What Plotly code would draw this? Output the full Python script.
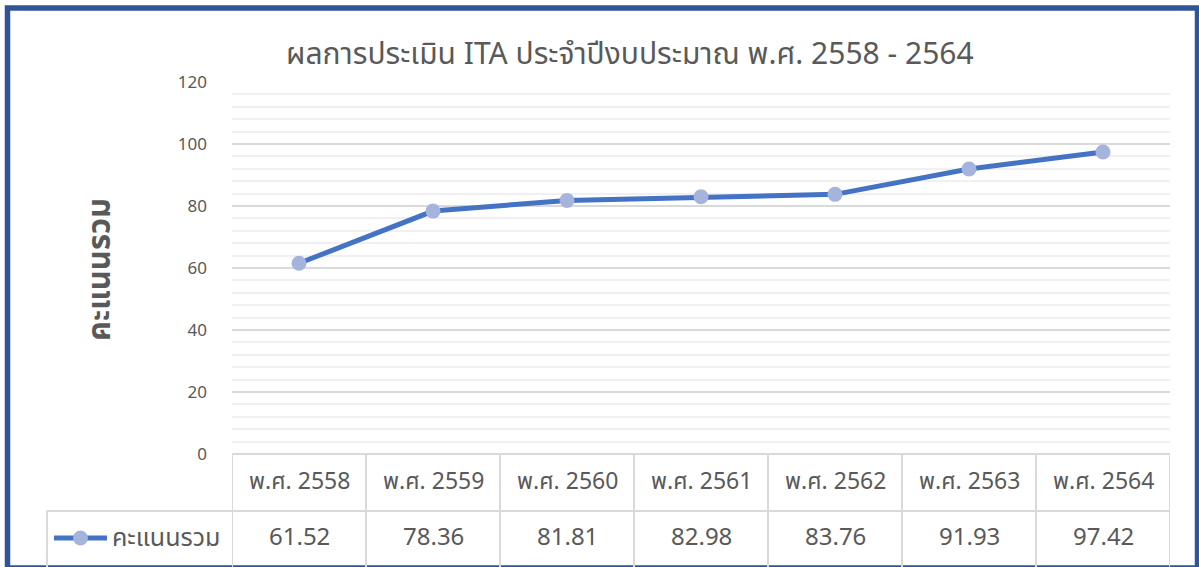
import plotly.graph_objects as go

categories = ["พ.ศ. 2558", "พ.ศ. 2559", "พ.ศ. 2560", "พ.ศ. 2561", "พ.ศ. 2562", "พ.ศ. 2563", "พ.ศ. 2564"]
scores = [61.52, 78.36, 81.81, 82.98, 83.76, 91.93, 97.42]
series_name = "คะแนนรวม"
title_text = "ผลการประเมิน ITA ประจำปีงบประมาณ พ.ศ. 2558 - 2564"
y_ticks = [0, 20, 40, 60, 80, 100, 120]

W, H = 1199, 567
L, R, T, B = 232, 1170, 82, 454  # plot area in pixels


def px_x(p):
    return (p - L) / (R - L)


def px_y(p):
    return (B - p) / (B - T)


FONT = "Leelawadee UI, Tahoma, Noto Sans Thai, Noto Sans, DejaVu Sans, sans-serif"
TXT = "#595959"
LINE = "#4472C4"
MARK = "#A5B4DC"
GRID = "#D9D9D9"
MINOR = "#F0F0F0"
BORDER = "#2F5597"

fig = go.Figure()
fig.add_trace(go.Scatter(
    x=categories, y=scores, name=series_name, mode="lines+markers",
    line=dict(color=LINE, width=5),
    marker=dict(color=MARK, size=15, line=dict(width=0)),
    showlegend=False, cliponaxis=False,
))

shapes = []
annotations = []

# outer border
shapes.append(dict(type="rect", xref="paper", yref="paper",
                   x0=px_x(7.5), x1=px_x(1197.5), y0=px_y(568), y1=px_y(8),
                   line=dict(color=BORDER, width=5.5), fillcolor="rgba(0,0,0,0)", layer="above"))

# data table
row_mid = px_y(511)
bottom = px_y(575)
tcol = dict(color=GRID, width=2)
for i in range(len(categories) + 1):
    shapes.append(dict(type="line", xref="x", yref="paper", x0=i - 0.5, x1=i - 0.5,
                       y0=0, y1=bottom, line=tcol))
shapes.append(dict(type="line", xref="paper", yref="paper", x0=0, x1=1, y0=0, y1=0, line=tcol))
shapes.append(dict(type="line", xref="paper", yref="paper", x0=px_x(47), x1=1,
                   y0=row_mid, y1=row_mid, line=tcol))
shapes.append(dict(type="line", xref="paper", yref="paper", x0=px_x(47), x1=px_x(47),
                   y0=row_mid, y1=bottom, line=tcol))

# legend key in table
ky = px_y(538)
shapes.append(dict(type="line", xref="paper", yref="paper", x0=px_x(54), x1=px_x(107),
                   y0=ky, y1=ky, line=dict(color=LINE, width=5)))
shapes.append(dict(type="circle", xref="paper", yref="paper", x0=px_x(73), x1=px_x(88),
                   y0=px_y(545.5), y1=px_y(530.5), line=dict(width=0), fillcolor=MARK))
annotations.append(dict(text=series_name, xref="paper", yref="paper", x=px_x(110), y=ky,
                        xanchor="left", yanchor="middle", showarrow=False,
                        font=dict(family=FONT, size=25, color=TXT)))

for c, v in zip(categories, scores):
    annotations.append(dict(text=c, xref="x", yref="paper", x=c, y=px_y(482),
                            xanchor="center", yanchor="middle", showarrow=False,
                            font=dict(family=FONT, size=23, color=TXT)))
    annotations.append(dict(text=f"{v:.2f}", xref="x", yref="paper", x=c, y=ky,
                            xanchor="center", yanchor="middle", showarrow=False,
                            font=dict(family=FONT, size=24, color=TXT)))

# y-axis title (rotated, reads bottom-to-top)
annotations.append(dict(text="<b>" + series_name + "</b>", xref="paper", yref="paper",
                        x=px_x(100), y=px_y(270), textangle=-90, showarrow=False,
                        xanchor="center", yanchor="middle",
                        font=dict(family=FONT, size=31, color=TXT)))

# title
annotations.append(dict(text=title_text, xref="paper", yref="paper",
                        x=px_x(630), y=px_y(55), showarrow=False,
                        xanchor="center", yanchor="middle",
                        font=dict(family=FONT, size=30, color=TXT)))

fig.update_layout(
    width=W, height=H,
    margin=dict(l=L, r=W - R, t=T, b=H - B, pad=0),
    paper_bgcolor="white", plot_bgcolor="white",
    shapes=shapes, annotations=annotations,
    xaxis=dict(type="category", range=[-0.5, len(categories) - 0.5], showticklabels=False,
               showgrid=False, zeroline=False, showline=False, fixedrange=True),
    yaxis=dict(range=[0, 120], tickvals=y_ticks, showgrid=True, gridcolor=GRID, gridwidth=1.5,
               zeroline=False, showline=False, ticks="", ticklabelstandoff=24,
               tickfont=dict(family=FONT, size=17, color=TXT),
               minor=dict(dtick=4, showgrid=True, gridcolor=MINOR, gridwidth=1.5)),
    font=dict(family=FONT, color=TXT),
)

fig.write_html("out.html", config={"displayModeBar": False},
               post_script="document.body.style.margin='0';document.body.style.overflow='hidden';")
